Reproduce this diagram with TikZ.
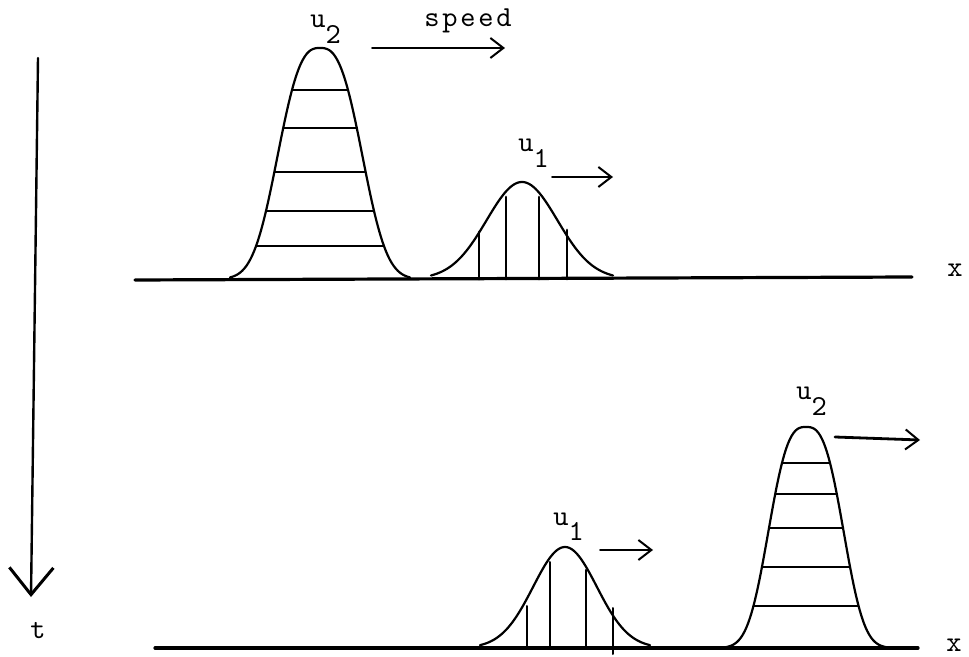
\documentclass[tikz,border=0pt]{standalone}
\usepackage{fontspec}
\setmonofont{lmmono10-regular}[Extension=.otf, LetterSpace=9.6]
\usetikzlibrary{arrows.meta}
\begin{document}
\begin{tikzpicture}[x=0.5pt,y=-0.5pt, line cap=round, line join=round,
  curve/.style={line width=1.1pt},
  baseln/.style={line width=1.6pt},
  hatch/.style={line width=1pt},
  thickhatch/.style={line width=1.4pt},
  lbl/.style={font=\fontsize{14.5}{15}\selectfont\ttfamily, inner sep=0pt, anchor=base west},
  axlbl/.style={font=\fontsize{14.5}{15}\selectfont\ttfamily, inner sep=0pt, anchor=base},
  arr/.style={line width=1pt, -{Straight Barb[length=6.5pt,width=10pt,line width=1pt]}}]
\useasboundingbox (0,0) rectangle (969,657);

% ---------- time axis ----------
\coordinate (tA) at (38,58);
\coordinate (tB) at (31,597);
\draw[line width=1.2pt, -{Straight Barb[length=13.5pt,width=22pt,line width=1.5pt]}] (tA) -- (tB);
\node[axlbl] (t) at (38,638) {t};

% ---------- top row ----------
\coordinate (b1L) at (135,280);
\coordinate (b1R) at (912,277);
\draw[baseln] (b1L) -- (b1R);
\node[axlbl] (x1) at (955,277) {x};

% tall pulse u2 (top)
\begin{scope}
  \clip plot[domain=-92:92,samples=92,smooth] ({320+\x},{279-231*exp(-pow(abs(\x)/50.2,2.75))}) -- cycle;
  \foreach \yy in {90,128,172,211,246} \draw[hatch] (200,\yy) -- (440,\yy);
\end{scope}
\draw[curve] plot[domain=-90:90,samples=90,smooth] ({320+\x},{279-231*exp(-pow(abs(\x)/50.2,2.75))});

% small pulse u1 (top)
\draw[curve] plot[domain=-91:91,samples=90,smooth] ({522+\x},{279-97*exp(-pow(abs(\x)/50,2))});
\draw[thickhatch] (479,279) -- (479,232);
\draw[thickhatch] (506,279) -- (506,197);
\draw[thickhatch] (539,279) -- (539,197);
\draw[thickhatch] (567,279) -- (567,230);

\node[lbl] (u2a) at (310,28) {u\raisebox{-0.52em}{2}};
\node[lbl] (speed) at (424,27) {speed};
\coordinate (s1) at (372,48);
\coordinate (s2) at (505,48);
\draw[arr] (s1) -- (s2);

\node[lbl] (u1a) at (518,152) {u\raisebox{-0.52em}{1}};
\coordinate (a1) at (552,177);
\coordinate (a2) at (613,177);
\draw[arr] (a1) -- (a2);

% ---------- bottom row ----------
\coordinate (b2L) at (155,648);
\coordinate (b2R) at (918,648);
\draw[baseln] (b2L) -- (b2R);
\node[axlbl] (x2) at (954,651) {x};

% small pulse u1 (bottom)
\draw[curve] plot[domain=-85:85,samples=90,smooth] ({565+\x},{648-101*exp(-pow(abs(\x)/45,2))});
\draw[hatch] (527,648) -- (527,606);
\draw[hatch] (550,648) -- (550,562);
\draw[hatch] (586,648) -- (586,570);
\draw[hatch] (613,654) -- (613,608);

\node[lbl] (u1b) at (553,525) {u\raisebox{-0.52em}{1}};
\coordinate (c1) at (600,550);
\coordinate (c2) at (653,550);
\draw[arr] (c1) -- (c2);

% tall pulse u2 (bottom)
\begin{scope}
  \clip plot[domain=-86:86,samples=92,smooth] ({806+\x},{648-221*exp(-pow(abs(\x)/44,2.85))}) -- cycle;
  \foreach \yy in {463,494,528,567,606} \draw[hatch] (700,\yy) -- (920,\yy);
\end{scope}
\draw[curve] plot[domain=-84:84,samples=90,smooth] ({806+\x},{648-221*exp(-pow(abs(\x)/44,2.85))});

\node[lbl] (u2b) at (796,400) {u\raisebox{-0.52em}{2}};
\coordinate (d1) at (835,437);
\coordinate (d2) at (920,440);
\draw[arr, line width=1.4pt] (d1) -- (d2);
\end{tikzpicture}
\end{document}
